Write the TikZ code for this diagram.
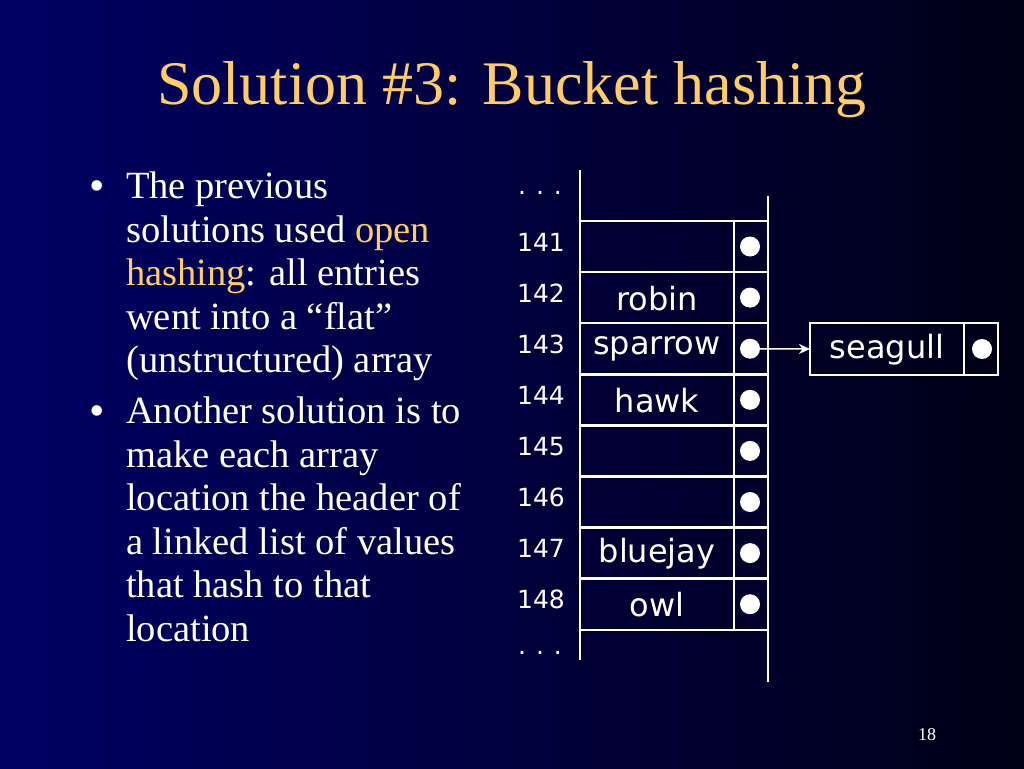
\documentclass[tikz,border=0pt]{standalone}
\usepackage{fontspec}
\setmainfont{Liberation Serif}
\newfontfamily\diag{DejaVu Sans}
\usetikzlibrary{arrows.meta}
\definecolor{bgl}{RGB}{0,0,100}
\definecolor{bgr}{RGB}{0,0,22}
\definecolor{ttl}{RGB}{255,204,102}
\tikzset{ln/.style={draw=white,line width=2.5pt},
  lab/.style={font=\diag\fontsize{25}{27}\selectfont,text=white},
  word/.style={font=\diag\fontsize{32}{34}\selectfont,text=white},
  dot/.style={circle,fill=white,inner sep=0pt,minimum size=20pt}}
\begin{document}
\begin{tikzpicture}[x=1pt,y=-1pt]
\shade[left color=bgl,right color=bgr] (0,0) rectangle (1024,768);
\useasboundingbox (0,0) rectangle (1024,768);
\node[text=ttl,font=\fontsize{62}{64}\selectfont] (title) at (512,90) {Solution \#3: Bucket hashing};
\node[anchor=north west,text=white,font=\fontsize{38.5}{43.5}\selectfont,align=left,inner sep=0pt] (b1) at (126,172)
 {The previous\\solutions used \textcolor{ttl}{open}\\\textcolor{ttl}{hashing}: all entries\\went into a “flat”\\(unstructured) array};
\node[anchor=north west,text=white,font=\fontsize{38.5}{43.5}\selectfont,align=left,inner sep=0pt] (b2) at (126,397)
 {Another solution is to\\make each array\\location the header of\\a linked list of values\\that hash to that\\location};
\node[text=white,font=\fontsize{44}{44}\selectfont] (u1) at (97,191) {•};
\node[text=white,font=\fontsize{44}{44}\selectfont] (u2) at (97,416) {•};
% array
\draw[ln] (580,170) -- (580,660);
\draw[ln] (768,196) -- (768,682);
\draw[ln] (734,221) -- (734,630);
\foreach \i in {0,...,8} \draw[ln] (580,221+51.1*\i) -- (768,221+51.1*\i);
\node[lab] (d1) at (540,193) {.\hspace{10pt}.\hspace{10pt}.};
\node[lab] (d2) at (540,653) {.\hspace{10pt}.\hspace{10pt}.};
\foreach \n/\w [count=\k from 0] in {141/,142/robin,143/sparrow,144/hawk,145/,146/,147/bluejay,148/owl}{
  \node[lab] (l\n) at (541,242+51.1*\k) {\n};
  \node[word] (w\n) at (657,247+51.1*\k) {\w};
  \node[dot] (p\n) at (750,246.5+51.1*\k) {};
}
\draw[ln] (810,323) rectangle (998,375);
\draw[ln] (964,323) -- (964,375);
\node[word] (sg) at (887,350) {seagull};
\node[dot] (ps) at (982,349) {};
\coordinate (sgl) at (810,349);
\draw[white,line width=1.5pt,-{Stealth[length=11pt,width=10pt]}] (p143.center) -- (sgl);
\node[text=white,font=\fontsize{18}{20}\selectfont] (pg) at (927,735) {18};
\end{tikzpicture}
\end{document}
